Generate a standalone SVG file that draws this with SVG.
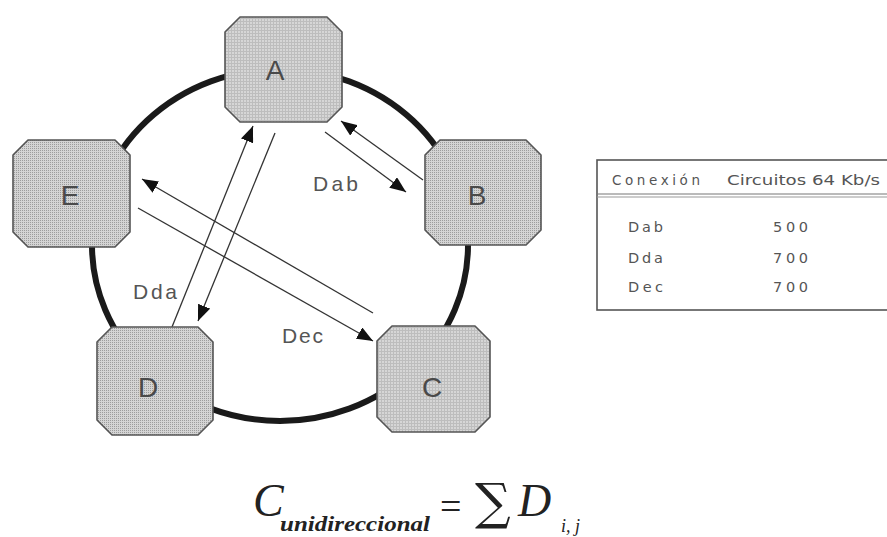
<svg xmlns="http://www.w3.org/2000/svg" width="887" height="537" viewBox="0 0 887 537">
<defs>
<pattern id="dots" width="2" height="2" patternUnits="userSpaceOnUse">
<rect width="2" height="2" fill="#d4d4d4"/>
<rect width="1" height="1" fill="#9c9c9c"/>
</pattern>
<pattern id="grid" width="3" height="3" patternUnits="userSpaceOnUse">
<rect width="3" height="3" fill="#d6d6d6"/>
<rect width="3" height="1" fill="#bdbdbd"/>
<rect width="1" height="3" fill="#bdbdbd"/>
</pattern>
<marker id="ah" markerWidth="17" markerHeight="13" refX="16" refY="6.5" orient="auto" markerUnits="userSpaceOnUse">
<path d="M0,0 L16,6.5 L0,13 Z" fill="#111"/>
</marker>
</defs>
<style>
.ring{fill:none;stroke:#1a1a1a;stroke-width:6}
.node{stroke:#555;stroke-width:1.6;stroke-linejoin:round}
.nl{font-family:"Liberation Sans",Arial,sans-serif;font-size:28px;fill:#4a4a4a;text-anchor:middle}
.arr{stroke:#333;stroke-width:1.3;fill:none;marker-end:url(#ah)}
.lab{font-family:"Liberation Sans",Arial,sans-serif;font-size:21px;fill:#555}
.tt{font-family:"DejaVu Sans",Verdana,sans-serif;font-size:13.5px;fill:#555}
.tr{font-family:"DejaVu Sans",Verdana,sans-serif;font-size:14.5px;fill:#555}
.f{font-family:"Liberation Serif","Times New Roman",serif;font-style:italic;fill:#222}
</style>
<rect width="887" height="537" fill="#ffffff"/>
<ellipse class="ring" cx="280" cy="245" rx="188" ry="176"/>
<g id="connectors">
<line class="arr" x1="172" y1="327" x2="253" y2="126"/>
<line class="arr" x1="275" y1="133" x2="198" y2="321"/>
<line class="arr" x1="325" y1="132" x2="406" y2="192"/>
<line class="arr" x1="423" y1="180" x2="341" y2="121"/>
<line class="arr" x1="373" y1="313" x2="142" y2="179"/>
<line class="arr" x1="138" y1="208" x2="373" y2="341"/>
<text class="lab" x="313" y="191" textLength="45" lengthAdjust="spacing">Dab</text>
<text class="lab" x="133" y="299" textLength="44" lengthAdjust="spacing">Dda</text>
<text class="lab" x="282" y="343" textLength="41" lengthAdjust="spacing">Dec</text>
</g>
<g id="A">
<path class="node" fill="url(#grid)" d="M240,17 H327 L342,32 V107 L327,122 H240 L225,107 V32 Z"/>
<text class="nl" x="275" y="80">A</text>
</g>
<g id="B">
<path class="node" fill="url(#dots)" d="M440,140 H526 L541,155 V230 L526,245 H440 L425,230 V155 Z"/>
<text class="nl" x="477" y="205">B</text>
</g>
<g id="C">
<path class="node" fill="url(#grid)" d="M392,326 H475 L490,341 V417 L475,432 H392 L377,417 V341 Z"/>
<text class="nl" x="432" y="397">C</text>
</g>
<g id="D">
<path class="node" fill="url(#dots)" d="M112,327 H198 L213,342 V420 L198,435 H112 L97,420 V342 Z"/>
<text class="nl" x="148" y="397">D</text>
</g>
<g id="E">
<path class="node" fill="url(#dots)" d="M28,140 H115 L130,155 V232 L115,247 H28 L13,232 V155 Z"/>
<text class="nl" x="70" y="205">E</text>
</g>
<g id="table">
<rect x="597" y="160" width="295" height="150" fill="#fff" stroke="#555" stroke-width="1.6"/>
<line x1="597" y1="194" x2="892" y2="194" stroke="#777" stroke-width="1.2"/>
<line x1="597" y1="197" x2="892" y2="197" stroke="#999" stroke-width="1.2"/>
<text class="tt" x="612" y="185" textLength="88" lengthAdjust="spacing">Conexión</text>
<text class="tt" x="727" y="185" textLength="153" lengthAdjust="spacingAndGlyphs">Circuitos 64 Kb/s</text>
<text class="tr" x="628" y="232" textLength="35" lengthAdjust="spacing">Dab</text>
<text class="tr" x="773" y="232" textLength="35" lengthAdjust="spacing">500</text>
<text class="tr" x="628" y="263" textLength="35" lengthAdjust="spacing">Dda</text>
<text class="tr" x="773" y="263" textLength="35" lengthAdjust="spacing">700</text>
<text class="tr" x="628" y="292" textLength="35" lengthAdjust="spacing">Dec</text>
<text class="tr" x="773" y="292" textLength="35" lengthAdjust="spacing">700</text>
</g>
<g id="formula">
<text class="f" x="253" y="516" font-size="46">C</text>
<text class="f" x="280" y="531" font-size="22" font-weight="bold" textLength="150" lengthAdjust="spacingAndGlyphs">unidireccional</text>
<text x="440" y="519" font-family="Liberation Serif,serif" font-size="38" fill="#222">=</text>
<text x="475" y="519" font-family="DejaVu Serif,serif" font-size="50" fill="#222">∑</text>
<text class="f" x="518" y="516" font-size="46">D</text>
<text class="f" x="561" y="532" font-size="18">i, j</text>
</g>
</svg>
